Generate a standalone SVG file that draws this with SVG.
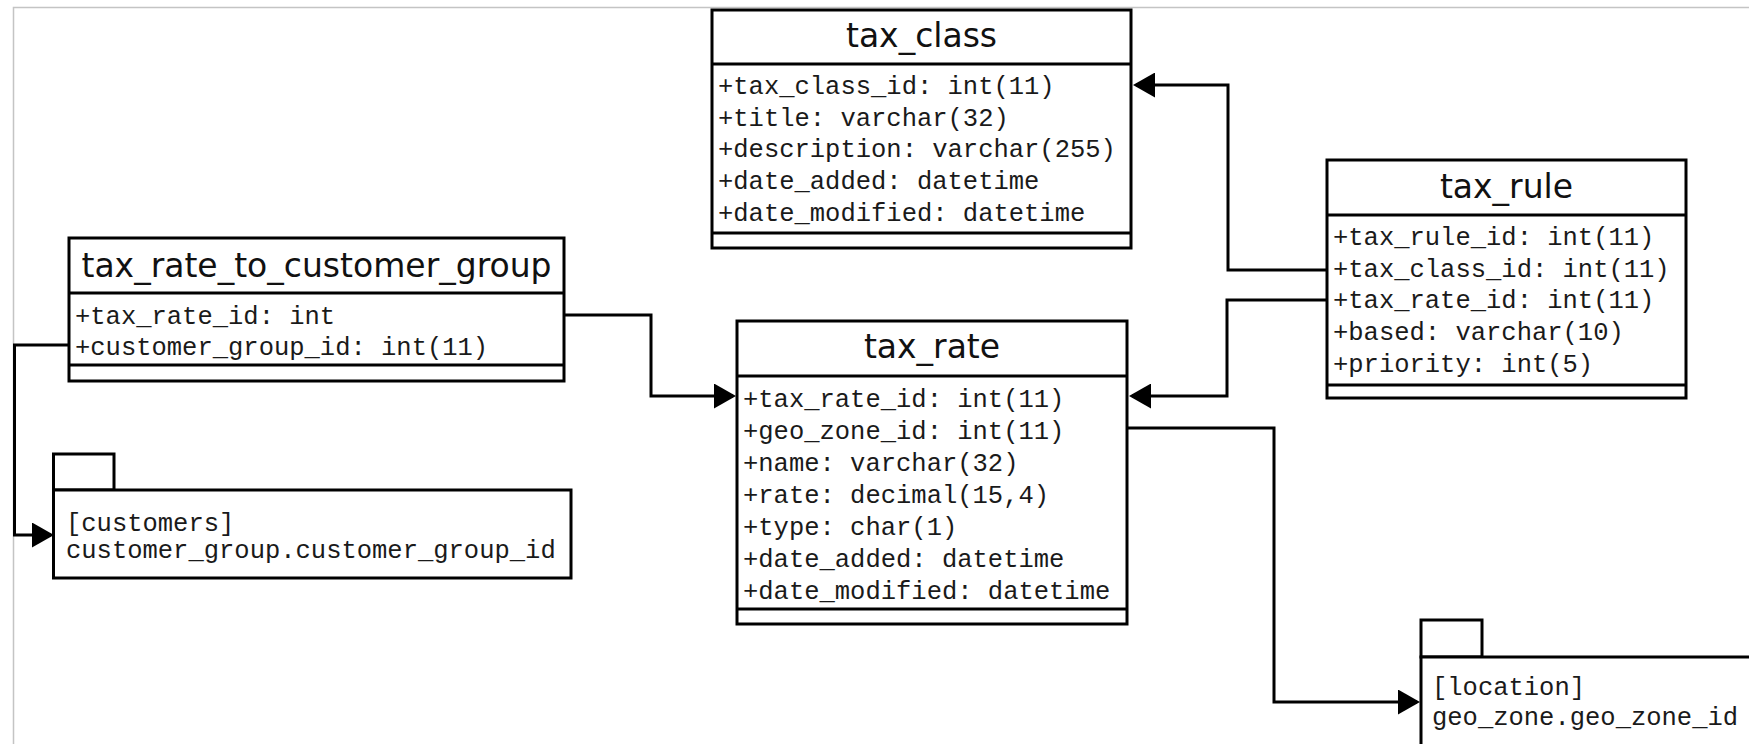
<svg xmlns="http://www.w3.org/2000/svg" width="1749" height="744" viewBox="0 0 1749 744">
  <style>
    .box { fill: #ffffff; stroke: #000000; stroke-width: 3; }
    .sep { stroke: #000000; stroke-width: 3; }
    .title { font-family: "DejaVu Sans", "Liberation Sans", sans-serif; font-size: 33px; fill: #111111; text-anchor: middle; }
    .attr { font-family: "Liberation Mono", "DejaVu Sans Mono", monospace; font-size: 25.5px; fill: #1a1a1a; }
    .conn { fill: none; stroke: #000000; stroke-width: 3; }
    .frame { fill: none; stroke: #c4c4c4; stroke-width: 1.5; }
  </style>
  <defs>
    <marker id="arrow" viewBox="0 0 22 25" refX="19" refY="12.5" markerWidth="22" markerHeight="25" markerUnits="userSpaceOnUse" orient="auto">
      <path d="M0,0 L22,12.5 L0,25 Z" fill="#000000"/>
    </marker>
  </defs>

  <rect width="1749" height="744" fill="#ffffff"/>
  <!-- canvas frame, open to the right and bottom -->
  <path class="frame" d="M13.5,760 V7.5 H1760"/>

  <!-- relationships -->
  <g id="connectors">
    <path class="conn" d="M1327,270 H1228 V85 H1136" marker-end="url(#arrow)"/>
    <path class="conn" d="M1327,300 H1227 V396 H1132" marker-end="url(#arrow)"/>
    <path class="conn" d="M564,315 H651 V396 H733" marker-end="url(#arrow)"/>
    <path class="conn" d="M69,345 H14.5 V535 H51" marker-end="url(#arrow)"/>
    <path class="conn" d="M1127,428 H1274 V702 H1417" marker-end="url(#arrow)"/>
  </g>

  <!-- tax_class -->
  <g id="tax_class">
    <rect class="box" x="712" y="10" width="419" height="238"/>
    <line class="sep" x1="712" y1="64" x2="1131" y2="64"/>
    <line class="sep" x1="712" y1="233" x2="1131" y2="233"/>
    <text class="title" x="921.5" y="47">tax_class</text>
    <text class="attr" x="718" y="94">+tax_class_id: int(11)</text>
    <text class="attr" x="718" y="126">+title: varchar(32)</text>
    <text class="attr" x="718" y="157">+description: varchar(255)</text>
    <text class="attr" x="718" y="189">+date_added: datetime</text>
    <text class="attr" x="718" y="221">+date_modified: datetime</text>
  </g>

  <!-- tax_rule -->
  <g id="tax_rule">
    <rect class="box" x="1327" y="160" width="359" height="238"/>
    <line class="sep" x1="1327" y1="215" x2="1686" y2="215"/>
    <line class="sep" x1="1327" y1="385" x2="1686" y2="385"/>
    <text class="title" x="1506.5" y="198">tax_rule</text>
    <text class="attr" x="1333" y="245">+tax_rule_id: int(11)</text>
    <text class="attr" x="1333" y="277">+tax_class_id: int(11)</text>
    <text class="attr" x="1333" y="308">+tax_rate_id: int(11)</text>
    <text class="attr" x="1333" y="340">+based: varchar(10)</text>
    <text class="attr" x="1333" y="372">+priority: int(5)</text>
  </g>

  <!-- tax_rate -->
  <g id="tax_rate">
    <rect class="box" x="737" y="321" width="390" height="303"/>
    <line class="sep" x1="737" y1="376" x2="1127" y2="376"/>
    <line class="sep" x1="737" y1="609" x2="1127" y2="609"/>
    <text class="title" x="932" y="358">tax_rate</text>
    <text class="attr" x="743" y="407">+tax_rate_id: int(11)</text>
    <text class="attr" x="743" y="439">+geo_zone_id: int(11)</text>
    <text class="attr" x="743" y="471">+name: varchar(32)</text>
    <text class="attr" x="743" y="503">+rate: decimal(15,4)</text>
    <text class="attr" x="743" y="535">+type: char(1)</text>
    <text class="attr" x="743" y="567">+date_added: datetime</text>
    <text class="attr" x="743" y="599">+date_modified: datetime</text>
  </g>

  <!-- tax_rate_to_customer_group -->
  <g id="tax_rate_to_customer_group">
    <rect class="box" x="69" y="238" width="495" height="143"/>
    <line class="sep" x1="69" y1="293" x2="564" y2="293"/>
    <line class="sep" x1="69" y1="365" x2="564" y2="365"/>
    <text class="title" x="316.5" y="277">tax_rate_to_customer_group</text>
    <text class="attr" x="75" y="324">+tax_rate_id: int</text>
    <text class="attr" x="75" y="355">+customer_group_id: int(11)</text>
  </g>

  <!-- external package: customers -->
  <g id="pkg_customers">
    <rect class="box" x="53.5" y="454" width="60.5" height="36"/>
    <rect class="box" x="53.5" y="490" width="517.5" height="88"/>
    <text class="attr" x="66" y="531">[customers]</text>
    <text class="attr" x="66" y="558">customer_group.customer_group_id</text>
  </g>

  <!-- external package: location -->
  <g id="pkg_location">
    <rect class="box" x="1421" y="620" width="61" height="37"/>
    <rect class="box" x="1421" y="657" width="360" height="120"/>
    <text class="attr" x="1432" y="695">[location]</text>
    <text class="attr" x="1432" y="725">geo_zone.geo_zone_id</text>
  </g>
</svg>
